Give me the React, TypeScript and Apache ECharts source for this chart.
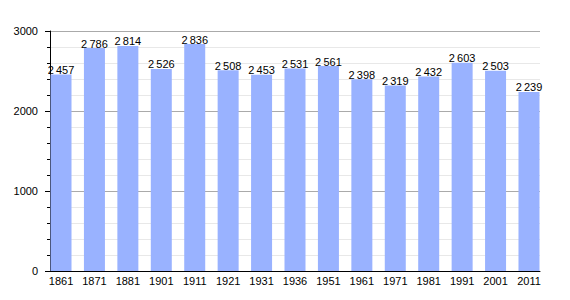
import React, { useEffect, useRef } from "react";
import * as echarts from "echarts";

const years = ["1861", "1871", "1881", "1901", "1911", "1921", "1931", "1936", "1951", "1961", "1971", "1981", "1991", "2001", "2011"];
const population = [2457, 2786, 2814, 2526, 2836, 2508, 2453, 2531, 2561, 2398, 2319, 2432, 2603, 2503, 2239];
const yMin = 0;
const yMax = 3000;
const yInterval = 1000;

const FONT = "'Liberation Sans', Arial, sans-serif";

function fmt(v: number): string {
  const s = String(Math.round(v));
  if (s.length <= 3) return s;
  return s.slice(0, s.length - 3) + "\u2009" + s.slice(s.length - 3);
}

export default function App() {
  const ref = useRef<HTMLDivElement>(null);
  useEffect(() => {
    if (!ref.current) return;
    const chart = echarts.init(ref.current, undefined, { renderer: "svg" });
    chart.setOption({
      animation: false,
      backgroundColor: "#ffffff",
      grid: [
        { left: 50, top: 31, width: 490, height: 240 },
        { left: 44.3, top: 31, width: 501.4, height: 240 },
      ],
      xAxis: [
        {
          gridIndex: 0,
          type: "value",
          min: 0,
          max: 1,
          axisLine: { show: true, onZero: false, lineStyle: { color: "#000", width: 1 } },
          axisTick: { show: false },
          axisLabel: { show: false },
          splitLine: { show: false },
        },
        {
          gridIndex: 1,
          type: "category",
          data: years,
          axisLine: { show: false },
          axisTick: { show: false },
          axisLabel: { color: "#000", fontSize: 11, fontFamily: FONT, margin: 4 },
          splitLine: { show: false },
        },
      ],
      yAxis: [
        {
          gridIndex: 0,
          type: "value",
          min: yMin,
          max: yMax,
          interval: yInterval,
          axisLine: { show: true, lineStyle: { color: "#000", width: 1 } },
          axisTick: { show: true, length: 5, lineStyle: { color: "#000" } },
          minorTick: { show: true, splitNumber: 5, length: 3, lineStyle: { color: "#000" } },
          axisLabel: {
            color: "#000",
            fontSize: 11,
            fontFamily: FONT,
            margin: 12,
            formatter: (v: number) => String(v),
          },
          splitLine: { show: true, lineStyle: { color: "#aaaaaa", width: 1 } },
          minorSplitLine: { show: true, lineStyle: { color: "#e8e8e8", width: 1 } },
        },
        {
          gridIndex: 1,
          type: "value",
          min: yMin,
          max: yMax,
          show: false,
        },
      ],
      series: [
        {
          type: "bar",
          xAxisIndex: 1,
          yAxisIndex: 1,
          data: population,
          barWidth: 21,
          itemStyle: { color: "#99b2ff" },
          label: {
            show: true,
            position: "top",
            distance: -1,
            color: "#000",
            fontSize: 11,
            fontFamily: FONT,
            formatter: (p: any) => fmt(p.value),
          },
        },
      ],
    });
    return () => chart.dispose();
  }, []);
  return (
    <div
      ref={ref}
      style={{ position: "absolute", left: 0, top: 0, width: 570, height: 300 }}
    />
  );
}
